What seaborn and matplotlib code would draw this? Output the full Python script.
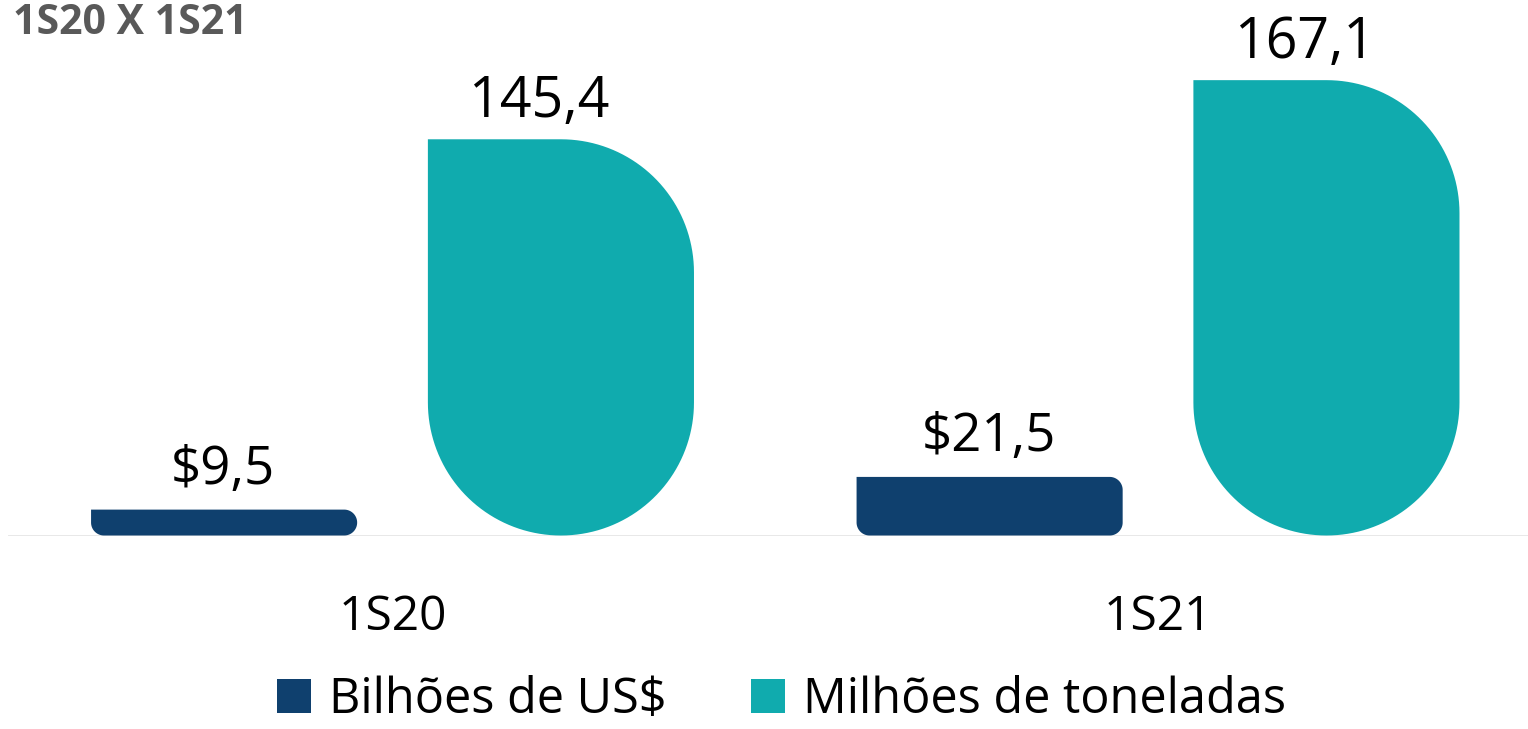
import numpy as np
import pandas as pd
import matplotlib
matplotlib.use("Agg")
import matplotlib.pyplot as plt
from matplotlib.patches import Polygon, Patch
import seaborn as sns

# ---- data ----
periodos = ["1S20", "1S21"]
series = ["Bilhões de US$", "Milhões de toneladas"]
bilhoes_usd = [9.5, 21.5]
milhoes_ton = [145.4, 167.1]
rotulos_usd = ["$9,5", "$21,5"]
rotulos_ton = ["145,4", "167,1"]
titulo = "1S20 X 1S21"

cores = {"Bilhões de US$": "#0F406E", "Milhões de toneladas": "#10ABAE"}

df = pd.DataFrame({
    "periodo": periodos * 2,
    "serie": [series[0]] * 2 + [series[1]] * 2,
    "valor": bilhoes_usd + milhoes_ton,
    "rotulo": rotulos_usd + rotulos_ton,
})

sns.set_theme(style="white")
plt.rcParams["font.family"] = ["Open Sans", "DejaVu Sans"]

W, H, DPI = 1528, 729, 100
fig = plt.figure(figsize=(W / DPI, H / DPI), dpi=DPI)
base_px = 535.5
ymax = 180
px_per_unit = 2.725
ax_h = ymax * px_per_unit
ax = fig.add_axes([8 / W, (H - base_px) / H, 1520 / W, ax_h / H])

sns.barplot(data=df, x="periodo", y="valor", hue="serie", hue_order=series,
            order=periodos, palette=cores, width=0.88, gap=0.21,
            saturation=1, linewidth=0, ax=ax, legend=False, zorder=2)

ax.set_ylim(0, ymax)
ax.set_xlim(-0.5023, 1.4833)
for s in ax.spines.values():
    s.set_visible(False)
ax.set_yticks([])
ax.set_ylabel("")
ax.set_xlabel("")
ax.axhline(0, color="#E6E6E6", lw=2, zorder=1)
ax.tick_params(axis="x", length=0, pad=42, labelsize=34.5, labelcolor="#000000")
for t in ax.get_xticklabels():
    t.set_verticalalignment("top")

fig.canvas.draw()

def rounded_poly(x0, y0, x1, y1, r, n=40):
    pts = [(x0, y1)]
    def arc(cx, cy, a0, a1):
        for a in np.linspace(np.radians(a0), np.radians(a1), n):
            pts.append((cx + r * np.cos(a), cy + r * np.sin(a)))
    arc(x1 - r, y1 - r, 90, 0)
    arc(x1 - r, y0 + r, 0, -90)
    arc(x0 + r, y0 + r, -90, -180)
    pts.append((x0, y1))
    return np.array(pts)

bars = [p for p in ax.patches if p.get_height() > 0]
to_data = ax.transData.inverted()
for p in bars:
    x, y = p.get_x(), p.get_y()
    w, h = p.get_width(), p.get_height()
    match = df.loc[(df["valor"] - h).abs() < 1e-6].iloc[0]
    serie = match["serie"]
    lab = match["rotulo"]
    fc = cores[serie]
    (dx0, dy0) = ax.transData.transform((x, y))
    (dx1, dy1) = ax.transData.transform((x + w, y + h))
    wpx, hpx = dx1 - dx0, dy1 - dy0
    r = wpx / 2 if serie == series[1] else 13
    r = min(r, hpx / 2, wpx / 2)
    poly_disp = rounded_poly(dx0, dy0, dx1, dy1, r)
    poly = Polygon(to_data.transform(poly_disp), closed=True,
                   facecolor=fc, edgecolor="none", zorder=3)
    ax.add_patch(poly)
    p.set_visible(False)

    if serie == series[1]:
        ax.annotate(lab, (x + w / 2, y + h), xytext=(-22, 22),
                    textcoords="offset pixels", ha="center", va="baseline",
                    fontsize=40, color="#000000")
    else:
        ax.annotate(lab, (x + w / 2, y + h), xytext=(-1, 26),
                    textcoords="offset pixels", ha="center", va="baseline",
                    fontsize=38, color="#000000")

fig.text(13 / W, 1 - 3 / H, titulo, ha="left", va="top",
         fontsize=29.5, fontweight="bold", color="#595959")

handles = [Patch(facecolor=cores[s], edgecolor="none") for s in series]
leg = fig.legend(handles, series, loc="center", bbox_to_anchor=(0.5115, (H - 700) / H),
                 ncol=2, frameon=False, fontsize=35, handlelength=0.7,
                 handleheight=0.7, handletextpad=0.38, columnspacing=1.72,
                 borderaxespad=0, borderpad=0)
for t in leg.get_texts():
    t.set_color("#000000")

fig.savefig("out.png", dpi=DPI)
